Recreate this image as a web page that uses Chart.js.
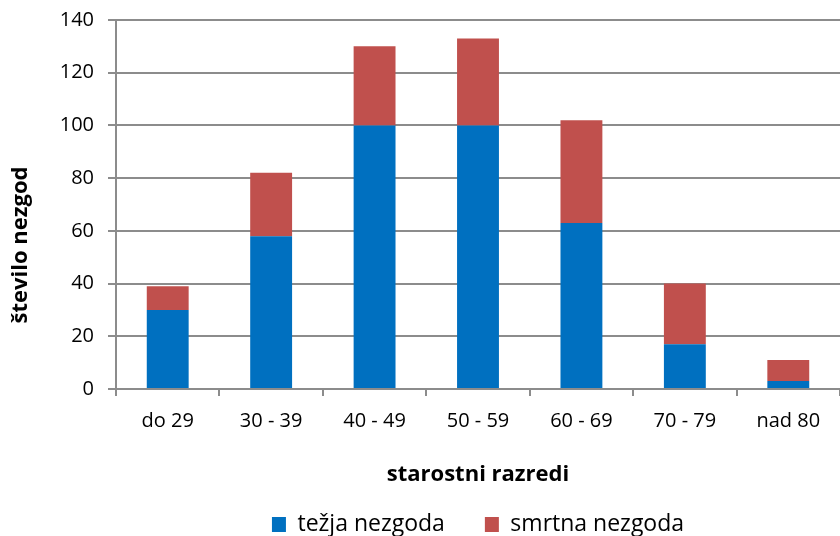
<!DOCTYPE html>
<html>
<head>
<meta charset="utf-8">
<script src="https://cdn.jsdelivr.net/npm/chart.js@4"></script>
<style>
html,body{margin:0;padding:0;background:#fff;}
#wrap{width:840px;height:536px;}
</style>
</head>
<body>
<div id="wrap"><canvas id="c" width="840" height="536"></canvas></div>
<script>
const categories = ["do 29","30 - 39","40 - 49","50 - 59","60 - 69","70 - 79","nad 80"];
const tezja = [30, 58, 100, 100, 63, 17, 3];
const smrtna = [9, 24, 30, 33, 39, 23, 8];
const seriesNames = ["težja nezgoda","smrtna nezgoda"];
const yTicks = [0,20,40,60,80,100,120,140];
const yTitle = "število nezgod";
const xTitle = "starostni razredi";

const FONT = "'Open Sans', 'Liberation Sans', sans-serif";
const GRID = '#8c8c8c';

const yTitlePlugin = {
  id: 'yTitlePlugin',
  afterDraw(chart) {
    const ctx = chart.ctx;
    ctx.save();
    ctx.font = "bold 22px " + FONT;
    ctx.fillStyle = '#000';
    ctx.textAlign = 'center';
    ctx.textBaseline = 'middle';
    ctx.translate(21, 245);
    ctx.rotate(-Math.PI / 2);
    ctx.fillText(yTitle, 0, 0);
    ctx.restore();
  }
};

new Chart(document.getElementById('c'), {
  type: 'bar',
  data: {
    labels: categories,
    datasets: [
      {label: seriesNames[0], data: tezja, backgroundColor: '#0070C0', borderWidth: 0, barPercentage: 0.81, categoryPercentage: 0.5},
      {label: seriesNames[1], data: smrtna, backgroundColor: '#C0504D', borderWidth: 0, barPercentage: 0.81, categoryPercentage: 0.5}
    ]
  },
  plugins: [yTitlePlugin],
  options: {
    responsive: false,
    animation: false,
    layout: {padding: {top: 20, right: 0, left: 0, bottom: 0}},
    plugins: {
      legend: {
        position: 'bottom',
        fullSize: false,
        maxHeight: 63,
        labels: {
          font: {family: FONT, size: 23},
          color: '#000',
          boxWidth: 14,
          boxHeight: 15,
          padding: 40
        }
      },
      tooltip: {enabled: false}
    },
    scales: {
      x: {
        stacked: true,
        grid: {display: true, drawOnChartArea: false, drawTicks: true, tickLength: 7, color: GRID, lineWidth: 2},
        border: {color: GRID, width: 2},
        ticks: {font: {family: FONT, size: 20}, color: '#000', padding: 13, maxRotation: 0},
        title: {display: true, text: xTitle, font: {family: FONT, size: 22, weight: 'bold'}, color: '#000', padding: {top: 0, bottom: -15}},
        afterFit: (s) => { s.height = 84; }
      },
      y: {
        stacked: true,
        min: 0,
        max: 140,
        afterBuildTicks: (s) => { s.ticks = yTicks.map(v => ({value: v})); },
        grid: {color: GRID, lineWidth: 2, tickLength: 8, drawTicks: true},
        border: {color: GRID, width: 2},
        ticks: {font: {family: FONT, size: 20}, color: '#000', padding: 14},
        afterFit: (s) => { s.width = 116; s.paddingTop = 0; s.paddingBottom = 0; }
      }
    }
  }
});
</script>
</body>
</html>
